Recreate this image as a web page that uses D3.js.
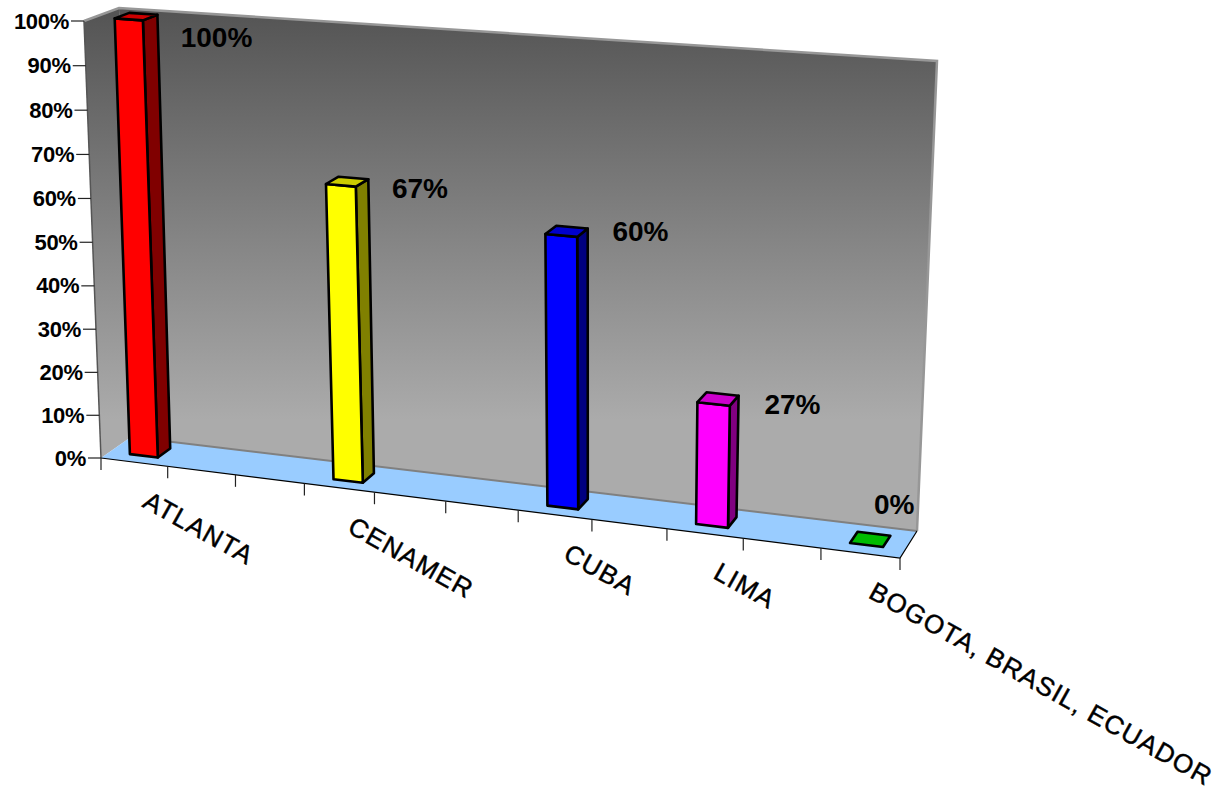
<!DOCTYPE html>
<html><head><meta charset="utf-8">
<script src="https://cdnjs.cloudflare.com/ajax/libs/d3/7.8.5/d3.min.js"></script>
<style>html,body{margin:0;padding:0;background:#fff;overflow:hidden}svg{display:block}text{font-family:"Liberation Sans",Arial,sans-serif}</style>
</head><body><svg id="c" width="1224" height="796"></svg>
<script>
const categories=["ATLANTA","","","CENAMER","","","CUBA","","LIMA","","BOGOTA, BRASIL, ECUADOR"];
const slots=categories.map((c,i)=>c?c:"s"+i);
const barNames=["ATLANTA","CENAMER","CUBA","LIMA","BOGOTA, BRASIL, ECUADOR"];
const barValues=[100,66.7,60,26.7,0];
const frontColors=["#ff0000","#ffff00","#0000ff","#ff00ff","#00c000"];
const sideColors=["#800000","#808000","#000080","#800080","#006000"];
const topColors=["#cc0000","#cccc00","#0000cc","#cc00cc","#00bb00"];
const valueTicks=[0,10,20,30,40,50,60,70,80,90,100];
const labelNudge=[[66,29],[66,14],[67,7],[67,12],[24,-29]];

const floorQuad=[[101,458],[900,558],[917,531],[131,437]];
const ceilQuad=[[84,21],[920,81],[937,61],[119,8]];
function homog(q){
  const [p0,p1,p2,p3]=q,[x0,y0]=p0,[x1,y1]=p1,[x2,y2]=p2,[x3,y3]=p3;
  const dx1=x1-x2,dx2=x3-x2,sx=x0-x1+x2-x3,dy1=y1-y2,dy2=y3-y2,sy=y0-y1+y2-y3;
  const d=dx1*dy2-dx2*dy1,g=(sx*dy2-dx2*sy)/d,h=(dx1*sy-sx*dy1)/d;
  const a=x1-x0+g*x1,b=x3-x0+h*x3,c=x0,e=y1-y0+g*y1,f=y3-y0+h*y3,k=y0;
  return (u,v)=>{const t=g*u+h*v+1;return [(a*u+b*v+c)/t,(e*u+f*v+k)/t];};
}
const hF=homog(floorQuad),hC=homog(ceilQuad);
const x=d3.scaleBand().domain(slots).range([0,1]);
const y=d3.scaleLinear().domain([0,100]).range([0,1]);
const warp=t=>t*(1-0.025)/(1-0.025*t);
const warpU=(u,q)=>u/(1-q*(1-u));
function P(u,v,val){const a=hF(warpU(u,0.07),v),b=hC(warpU(u,0.175),v),t=warp(y(val));return [a[0]+(b[0]-a[0])*t,a[1]+(b[1]-a[1])*t];}
const svg=d3.select("#c");
const path=pts=>"M"+pts.map(p=>p[0].toFixed(1)+","+p[1].toFixed(1)).join("L")+"Z";
const line=pts=>"M"+pts.map(p=>p[0].toFixed(1)+","+p[1].toFixed(1)).join("L");
const grad=svg.append("defs").append("linearGradient").attr("id","w").attr("gradientUnits","userSpaceOnUse").attr("x1",0).attr("x2",0).attr("y1",15).attr("y2",420);
grad.append("stop").attr("offset",0).attr("stop-color","#555555");
grad.append("stop").attr("offset",1).attr("stop-color","#ababab");
svg.append("path").attr("d",path([P(0,1,0),P(1,1,0),P(1,1,100),P(0,1,100)])).attr("fill","url(#w)");
svg.append("path").attr("d",path([P(0,0,0),P(0,1,0),P(0,1,100),P(0,0,100)])).attr("fill","url(#w)");
svg.append("path").attr("d",line([P(0,0,100),P(0,1,100),P(1,1,100),P(1,1,0)])).attr("fill","none").attr("stroke","#979797").attr("stroke-width",2.5);
svg.append("path").attr("d",line([P(0,0,100),P(0,0,0)])).attr("fill","none").attr("stroke","#555").attr("stroke-width",1.5);
svg.append("path").attr("d",path([P(0,0,0),P(1,0,0),P(1,1,0),P(0,1,0)])).attr("fill","#99ccff");
svg.append("path").attr("d",line([P(0,1,0),P(1,1,0)])).attr("fill","none").attr("stroke","#808080").attr("stroke-width",2);
svg.append("path").attr("d",line([P(0,0,0),P(1,0,0),P(1,1,0)])).attr("fill","none").attr("stroke","#000").attr("stroke-width",1.2);
const gy=svg.append("g");
valueTicks.forEach(v=>{const p=P(0,0,v);
  gy.append("line").attr("x1",p[0]-13).attr("x2",p[0]).attr("y1",p[1]).attr("y2",p[1]).attr("stroke","#222").attr("stroke-width",1.2);
  gy.append("text").attr("x",p[0]-15).attr("y",p[1]+7.5).attr("text-anchor","end").attr("font-weight","bold").attr("font-size",22).attr("letter-spacing",-0.3).attr("fill","#000").text(v+"%");
});
d3.range(categories.length+1).forEach(i=>{const u=i/categories.length,p=P(u,0,0);
  svg.append("line").attr("x1",p[0]).attr("x2",p[0]).attr("y1",p[1]).attr("y2",p[1]+12).attr("stroke","#222").attr("stroke-width",1.2);
});
const v0=0.3,v1=0.72,i0=0.3,i1=0.72;
barNames.forEach((n,i)=>{
  const key=n,b=x(key),w=x.bandwidth(),u0=b+w*i0,u1=b+w*i1,val=barValues[i];
  const g=svg.append("g").attr("stroke","#000").attr("stroke-width",2.6).attr("stroke-linejoin","round");
  if(val>0){
    g.append("path").attr("d",path([P(u1,v0,0),P(u1,v1,0),P(u1,v1,val),P(u1,v0,val)])).attr("fill",sideColors[i]);
    g.append("path").attr("d",path([P(u0,v0,0),P(u1,v0,0),P(u1,v0,val),P(u0,v0,val)])).attr("fill",frontColors[i]);
  }
  g.append("path").attr("d",path([P(u0,v0,val),P(u1,v0,val),P(u1,v1,val),P(u0,v1,val)])).attr("fill",topColors[i]);
  const t=P(u0,v0,val),nd=labelNudge[i];
  svg.append("text").attr("x",t[0]+nd[0]).attr("y",t[1]+nd[1]).attr("font-weight","bold").attr("font-size",28).attr("fill","#000").text(Math.round(val)+"%");
  const c=P(b+w/2,0,0);
  svg.append("text").attr("transform",`translate(${c[0]+7},${c[1]+44}) rotate(29.2)`).attr("font-size",26).attr("letter-spacing",1.2).attr("stroke","#000").attr("stroke-width",0.45).attr("fill","#000").text(n);
});
</script></body></html>
